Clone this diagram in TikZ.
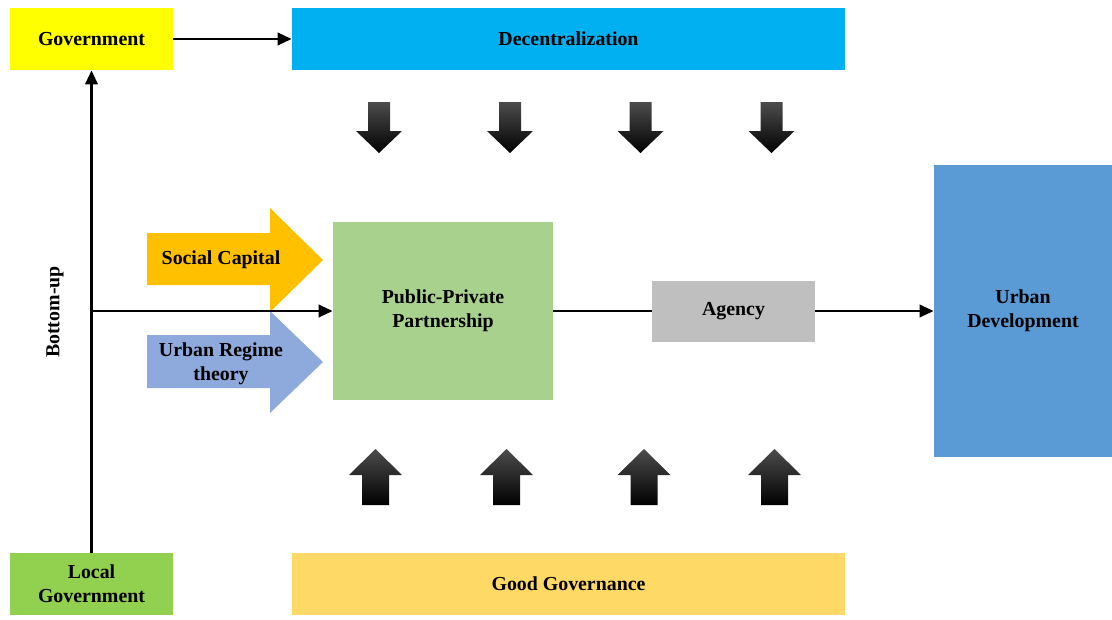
\documentclass[tikz,border=0pt]{standalone}
\usepackage{fontspec}
\setmainfont{Liberation Serif}
\usetikzlibrary{positioning, calc, arrows.meta}

\definecolor{govyellow}{HTML}{FFFF00}
\definecolor{decblue}{HTML}{00B0F0}
\definecolor{locgreen}{HTML}{92D050}
\definecolor{goodgov}{HTML}{FFD966}
\definecolor{pppgreen}{HTML}{A9D18E}
\definecolor{agencygray}{HTML}{BFBFBF}
\definecolor{urbanblue}{HTML}{5B9BD5}
\definecolor{socorange}{HTML}{FFC000}
\definecolor{regimeblue}{HTML}{8EA9DB}

\tikzset{
	box/.style={inner sep=0pt, align=center, font=\fontsize{11.3}{13.5}\selectfont\bfseries},
	link/.style={line width=1.6pt, -{Triangle[length=8pt, width=7pt]}},
}

\begin{document}
\begin{tikzpicture}[x=0.02cm, y=-0.02cm]
	\useasboundingbox (0,0) rectangle (1112,619);
	\node (gov) [box, fill=govyellow, minimum width=3.26cm, minimum height=1.24cm] at (91.5,39) {Government};
	\node (dec) [box, fill=decblue, minimum width=11.06cm, minimum height=1.24cm] at (568.5,39) {Decentralization};
	\node (loc) [box, fill=locgreen, minimum width=3.26cm, minimum height=1.24cm] at (91.5,584) {Local\\Government};
	\node (good) [box, fill=goodgov, minimum width=11.06cm, minimum height=1.24cm] at (568.5,584) {Good Governance};
	\node (ppp) [box, fill=pppgreen, minimum width=4.4cm, minimum height=3.56cm] at (443,311) {Public-Private\\Partnership};
	\node (agency) [box, fill=agencygray, minimum width=3.26cm, minimum height=1.22cm] at (733.5,311) {Agency};
	\node (urban) [box, fill=urbanblue, minimum width=3.56cm, minimum height=5.86cm] at (1023,311) {Urban\\Development};

	% block arrows into the partnership
	\fill[socorange] (147,233) -- (270,233) -- (270,208) -- (323,260) -- (270,312) -- (270,285) -- (147,285) -- cycle;
	\fill[regimeblue] (147,335) -- (270,335) -- (270,311) -- (323,362) -- (270,413) -- (270,388) -- (147,388) -- cycle;
	\node (soc) [box] at (221,260) {Social Capital};
	\node (regime) [box] at (221,364) {Urban Regime\\theory};

	% down and up arrows
	\foreach \x in {379,510,640.5,771.5}
		\shade[top color=black!70, bottom color=black] (\x-11,102) -- (\x+11,102) -- (\x+11,131) -- (\x+23,131) -- (\x,153) -- (\x-23,131) -- (\x-11,131) -- cycle;
	\foreach \x in {375.5,506.5,644,774.5}
		\shade[top color=black!70, bottom color=black] (\x,449) -- (\x+26.5,475) -- (\x+13.5,475) -- (\x+13.5,505) -- (\x-13.5,505) -- (\x-13.5,475) -- (\x-26.5,475) -- cycle;

	\draw [link] (gov) -- (dec);
	\draw [link] (loc) -- (gov);
	\coordinate (bu) at (loc.north |- ppp);
	\draw [link] (bu) -- (ppp);
	\draw [line width=1.6pt] (ppp) -- (agency);
	\draw [link] (agency) -- (urban);
	\node (bottomup) [box, rotate=90] at (55,312) {Bottom-up};
\end{tikzpicture}
\end{document}
